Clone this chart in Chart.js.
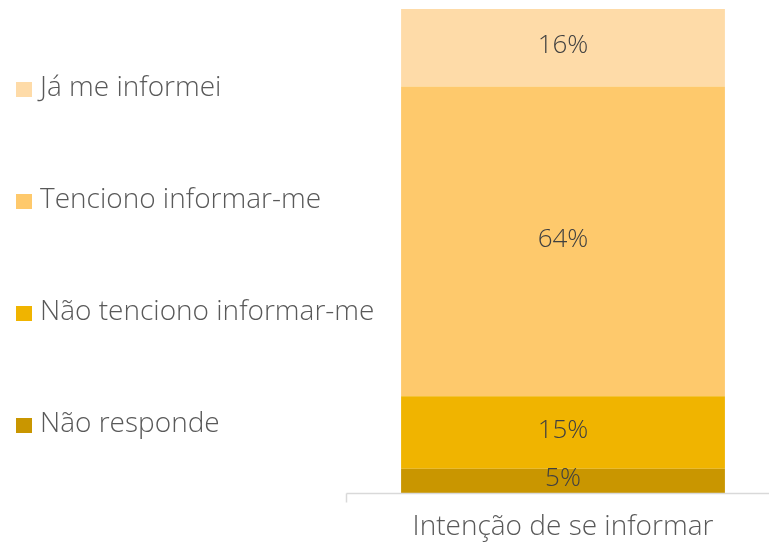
<!DOCTYPE html>
<html>
<head>
<meta charset="utf-8">
<script src="https://cdn.jsdelivr.net/npm/chart.js@4"></script>
<style>
  html, body { margin: 0; padding: 0; background: #fff; }
</style>
</head>
<body>
<canvas id="myChart" width="769" height="542"></canvas>
<script>
const categories = ['Intenção de se informar']
const seriesNames = ['Não responde', 'Não tenciono informar-me', 'Tenciono informar-me', 'Já me informei']
const naoResponde = [5]
const naoTenciono = [15]
const tenciono = [64]
const jaInformei = [16]
const seriesColors = ['#c99600', '#f0b400', '#fec96c', '#fedba8']

const FONT = "'Open Sans', sans-serif"

// legend on the left, top item = top segment
const sideLegend = {
	id: 'sideLegend',
	afterDraw(chart) {
		const ctx = chart.ctx
		const ys = [88, 200, 312, 424]
		ctx.save()
		ctx.font = '300 28px ' + FONT
		ctx.textBaseline = 'middle'
		for (let i = 0; i < 4; i++) {
			const ds = chart.data.datasets[3 - i]
			ctx.fillStyle = ds.backgroundColor
			ctx.fillRect(16, ys[i] - 6, 16, 15)
			ctx.fillStyle = '#595959'
			ctx.fillText(ds.label, 40, ys[i])
		}
		ctx.restore()
	}
}

const valueLabels = {
	id: 'valueLabels',
	afterDatasetsDraw(chart) {
		const ctx = chart.ctx
		ctx.save()
		ctx.font = '300 26px ' + FONT
		ctx.fillStyle = '#404040'
		ctx.textAlign = 'center'
		ctx.textBaseline = 'middle'
		chart.data.datasets.forEach((ds, i) => {
			chart.getDatasetMeta(i).data.forEach((bar, j) => {
				const y = (bar.y + bar.base) / 2
				ctx.fillText(ds.data[j] + '%', bar.x, y - 2)
			})
		})
		ctx.restore()
	}
}

const axisLine = {
	id: 'axisLine',
	afterDraw(chart) {
		const ctx = chart.ctx
		const b = Math.round(chart.chartArea.bottom) + 0.5
		ctx.save()
		ctx.strokeStyle = '#d9d9d9'
		ctx.lineWidth = 1.5
		ctx.beginPath()
		ctx.moveTo(346.5, b)
		ctx.lineTo(769, b)
		ctx.moveTo(346.5, b)
		ctx.lineTo(346.5, b + 9)
		ctx.stroke()
		ctx.restore()
	}
}

const ctx = document.getElementById('myChart')
new Chart(ctx, {
	type: 'bar',
	data: {
		labels: categories,
		datasets: [
			{ label: seriesNames[0], data: naoResponde, backgroundColor: seriesColors[0] },
			{ label: seriesNames[1], data: naoTenciono, backgroundColor: seriesColors[1] },
			{ label: seriesNames[2], data: tenciono, backgroundColor: seriesColors[2] },
			{ label: seriesNames[3], data: jaInformei, backgroundColor: seriesColors[3] },
		],
	},
	options: {
		responsive: false,
		animation: false,
		maintainAspectRatio: false,
		categoryPercentage: 1,
		barPercentage: 0.786,
		layout: {
			padding: { left: 357, top: 9, right: 0, bottom: 0 }
		},
		scales: {
			x: {
				stacked: true,
				grid: { display: false },
				border: { display: false },
				afterFit: s => { s.height = 49 },
				ticks: {
					padding: 9,
					maxRotation: 0,
					color: '#595959',
					font: { family: FONT, size: 28, weight: 300 }
				}
			},
			y: {
				stacked: true,
				display: false,
				min: 0,
				max: 100
			}
		},
		plugins: {
			legend: { display: false },
			tooltip: { enabled: false }
		}
	},
	plugins: [sideLegend, valueLabels, axisLine]
})
</script>
</body>
</html>
